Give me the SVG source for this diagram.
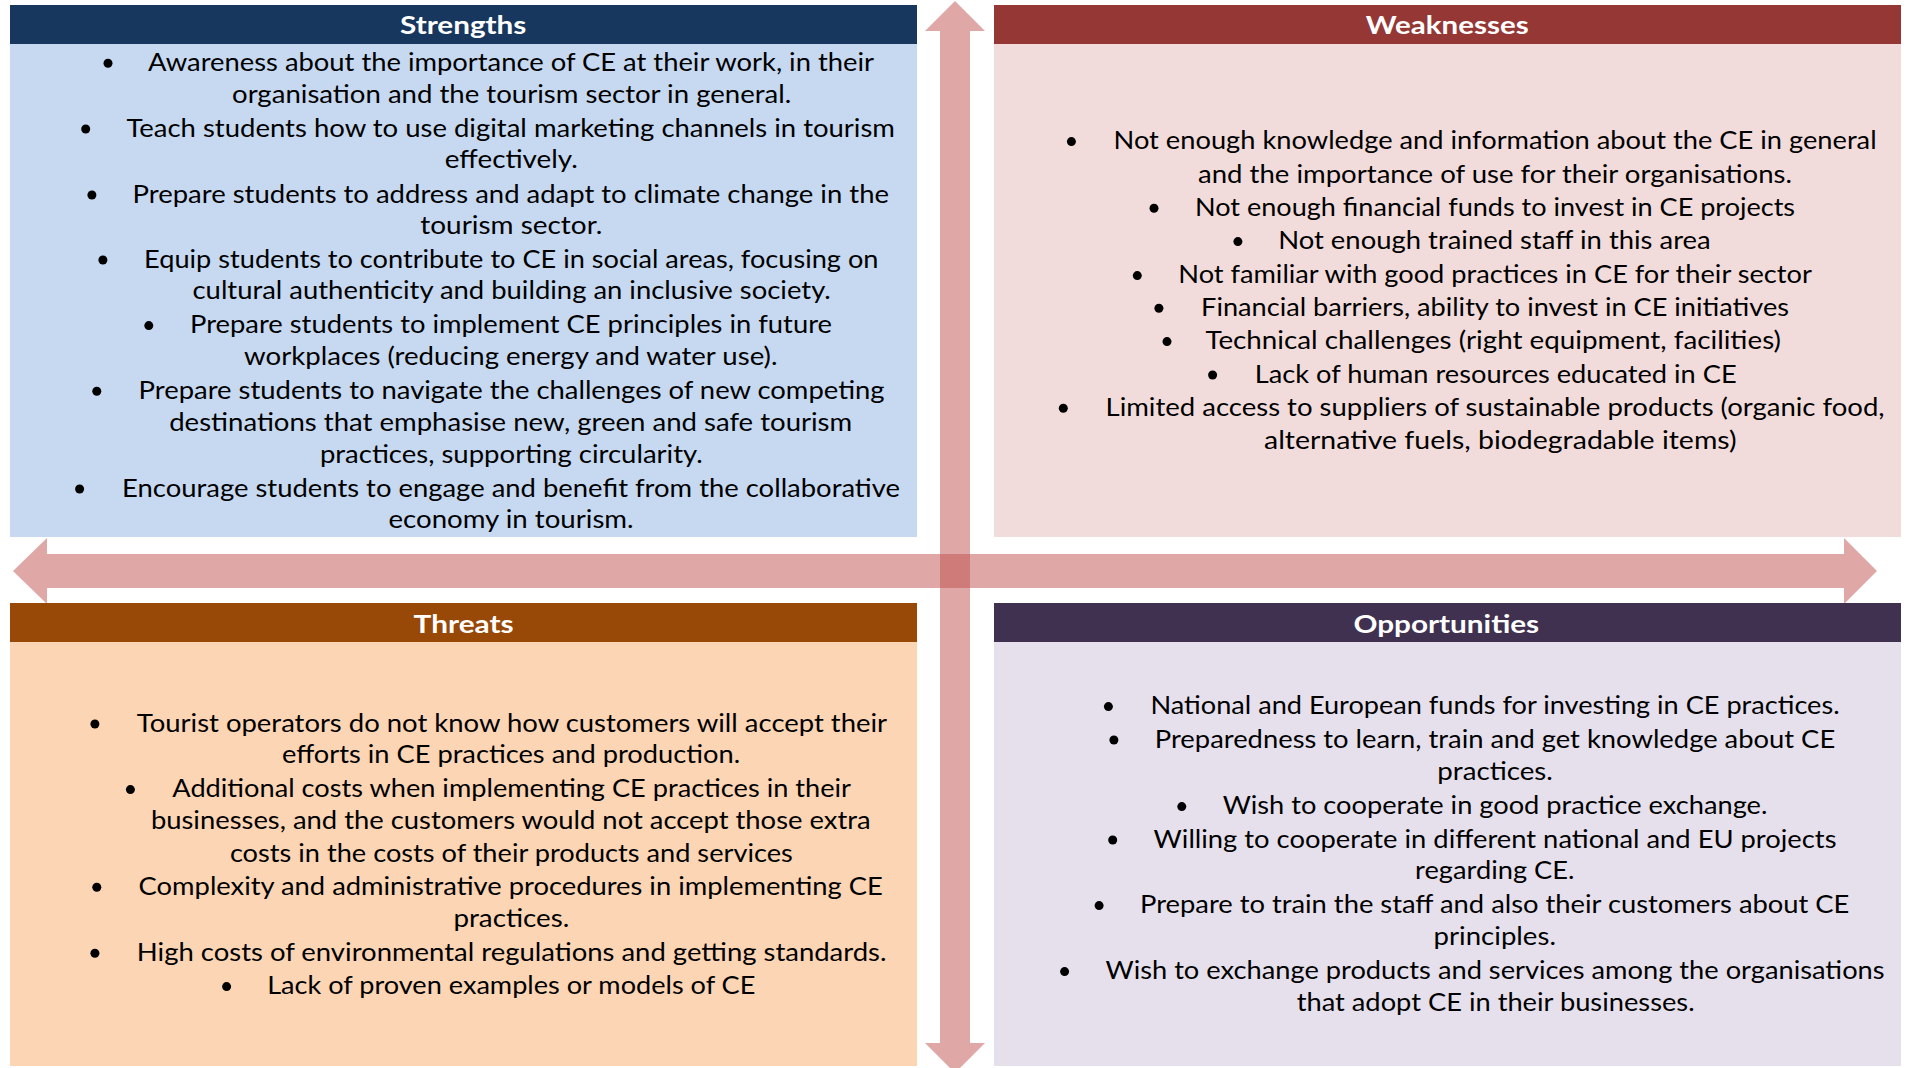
<svg xmlns="http://www.w3.org/2000/svg" width="1907" height="1068" viewBox="0 0 1907 1068">
<style>
.t{font-family:Lato,"Open Sans","Liberation Sans",sans-serif;font-size:25px;fill:#000;}
.h{font-family:Lato,"Open Sans","Liberation Sans",sans-serif;font-size:25px;font-weight:bold;fill:#fff;}
.arrow{fill:#C0504D;fill-opacity:0.5;}
.b{fill:#000;}
</style>
<rect width="1907" height="1068" fill="#fff"/>
<g id="connectors">
<polygon class="arrow" points="13,571 47,538 47,554 1844,554 1844,538 1877,571 1844,604 1844,588 47,588 47,604"/>
<polygon class="arrow" points="955,1 985,31 970,31 970,1043 985,1043 955,1073 925,1043 940,1043 940,31 925,31"/>
</g>
<g id="strengths">
<rect x="10" y="5" width="907" height="39" fill="#17375E"/>
<rect x="10" y="44" width="907" height="493" fill="#C6D9F1"/>
<text class="h" x="400" y="33.5" textLength="126.4" lengthAdjust="spacingAndGlyphs">Strengths</text>
<circle class="b" cx="108" cy="63.3" r="4.5"/>
<circle class="b" cx="85.7" cy="129" r="4.5"/>
<circle class="b" cx="91.9" cy="195" r="4.5"/>
<circle class="b" cx="102.9" cy="260" r="4.5"/>
<circle class="b" cx="148.8" cy="325.6" r="4.5"/>
<circle class="b" cx="96.8" cy="391.3" r="4.5"/>
<circle class="b" cx="79.6" cy="489" r="4.5"/>
<text class="t" x="148" y="71" textLength="726" lengthAdjust="spacingAndGlyphs">Awareness about the importance of CE at their work, in their</text>
<text class="t" x="232" y="102.7" textLength="559.3" lengthAdjust="spacingAndGlyphs">organisation and the tourism sector in general.</text>
<text class="t" x="126.4" y="136.7" textLength="768.6" lengthAdjust="spacingAndGlyphs">Teach students how to use digital marketing channels in tourism</text>
<text class="t" x="444.8" y="168.3" textLength="133" lengthAdjust="spacingAndGlyphs">effectively.</text>
<text class="t" x="132.5" y="202.7" textLength="756.5" lengthAdjust="spacingAndGlyphs">Prepare students to address and adapt to climate change in the</text>
<text class="t" x="420.3" y="234.3" textLength="182" lengthAdjust="spacingAndGlyphs">tourism sector.</text>
<text class="t" x="144.1" y="267.7" textLength="734.4" lengthAdjust="spacingAndGlyphs">Equip students to contribute to CE in social areas, focusing on</text>
<text class="t" x="192.5" y="299.3" textLength="638.3" lengthAdjust="spacingAndGlyphs">cultural authenticity and building an inclusive society.</text>
<text class="t" x="190" y="333.3" textLength="642" lengthAdjust="spacingAndGlyphs">Prepare students to implement CE principles in future</text>
<text class="t" x="244" y="365" textLength="533.5" lengthAdjust="spacingAndGlyphs">workplaces (reducing energy and water use).</text>
<text class="t" x="138.6" y="399" textLength="746" lengthAdjust="spacingAndGlyphs">Prepare students to navigate the challenges of new competing</text>
<text class="t" x="169.2" y="431" textLength="683" lengthAdjust="spacingAndGlyphs">destinations that emphasise new, green and safe tourism</text>
<text class="t" x="319.9" y="462.7" textLength="382.9" lengthAdjust="spacingAndGlyphs">practices, supporting circularity.</text>
<text class="t" x="122.1" y="496.7" textLength="777.9" lengthAdjust="spacingAndGlyphs">Encourage students to engage and benefit from the collaborative</text>
<text class="t" x="388.5" y="528.3" textLength="245.1" lengthAdjust="spacingAndGlyphs">economy in tourism.</text>
</g>
<g id="weaknesses">
<rect x="994" y="5" width="907" height="39" fill="#953735"/>
<rect x="994" y="44" width="907" height="493" fill="#F2DCDB"/>
<text class="h" x="1365.8" y="33.5" textLength="162.9" lengthAdjust="spacingAndGlyphs">Weaknesses</text>
<circle class="b" cx="1071.4" cy="141.6" r="4.5"/>
<circle class="b" cx="1154" cy="208.3" r="4.5"/>
<circle class="b" cx="1237.9" cy="241.6" r="4.5"/>
<circle class="b" cx="1137.3" cy="275.6" r="4.5"/>
<circle class="b" cx="1158.9" cy="308.3" r="4.5"/>
<circle class="b" cx="1167" cy="341.6" r="4.5"/>
<circle class="b" cx="1212.6" cy="375" r="4.5"/>
<circle class="b" cx="1063.3" cy="408.3" r="4.5"/>
<text class="t" x="1113.5" y="149.3" textLength="763.1" lengthAdjust="spacingAndGlyphs">Not enough knowledge and information about the CE in general</text>
<text class="t" x="1198" y="182.7" textLength="594" lengthAdjust="spacingAndGlyphs">and the importance of use for their organisations.</text>
<text class="t" x="1195" y="216" textLength="600.1" lengthAdjust="spacingAndGlyphs">Not enough financial funds to invest in CE projects</text>
<text class="t" x="1278.2" y="249.3" textLength="432.5" lengthAdjust="spacingAndGlyphs">Not enough trained staff in this area</text>
<text class="t" x="1178.3" y="283.3" textLength="633.5" lengthAdjust="spacingAndGlyphs">Not familiar with good practices in CE for their sector</text>
<text class="t" x="1201.1" y="316" textLength="587.9" lengthAdjust="spacingAndGlyphs">Financial barriers, ability to invest in CE initiatives</text>
<text class="t" x="1205.4" y="349.3" textLength="575.6" lengthAdjust="spacingAndGlyphs">Technical challenges (right equipment, facilities)</text>
<text class="t" x="1254.8" y="382.7" textLength="481.8" lengthAdjust="spacingAndGlyphs">Lack of human resources educated in CE</text>
<text class="t" x="1105.5" y="416" textLength="779.1" lengthAdjust="spacingAndGlyphs">Limited access to suppliers of sustainable products (organic food,</text>
<text class="t" x="1264" y="449.3" textLength="472.6" lengthAdjust="spacingAndGlyphs">alternative fuels, biodegradable items)</text>
</g>
<g id="threats">
<rect x="10" y="603" width="907" height="39" fill="#984807"/>
<rect x="10" y="642" width="907" height="424" fill="#FCD5B5"/>
<text class="h" x="413.6" y="632.5" textLength="100" lengthAdjust="spacingAndGlyphs">Threats</text>
<circle class="b" cx="94.9" cy="724" r="4.5"/>
<circle class="b" cx="130.4" cy="789.6" r="4.5"/>
<circle class="b" cx="96.8" cy="887.3" r="4.5"/>
<circle class="b" cx="94.9" cy="953.3" r="4.5"/>
<circle class="b" cx="226.6" cy="986.6" r="4.5"/>
<text class="t" x="136.8" y="731.7" textLength="750.3" lengthAdjust="spacingAndGlyphs">Tourist operators do not know how customers will accept their</text>
<text class="t" x="281.9" y="763.3" textLength="458.2" lengthAdjust="spacingAndGlyphs">efforts in CE practices and production.</text>
<text class="t" x="172.3" y="797.3" textLength="678.7" lengthAdjust="spacingAndGlyphs">Additional costs when implementing CE practices in their</text>
<text class="t" x="150.9" y="829.3" textLength="719.7" lengthAdjust="spacingAndGlyphs">businesses, and the customers would not accept those extra</text>
<text class="t" x="229.9" y="861.7" textLength="562.9" lengthAdjust="spacingAndGlyphs">costs in the costs of their products and services</text>
<text class="t" x="138.6" y="895" textLength="744.2" lengthAdjust="spacingAndGlyphs">Complexity and administrative procedures in implementing CE</text>
<text class="t" x="453.4" y="926.7" textLength="115.9" lengthAdjust="spacingAndGlyphs">practices.</text>
<text class="t" x="136.8" y="961" textLength="749.7" lengthAdjust="spacingAndGlyphs">High costs of environmental regulations and getting standards.</text>
<text class="t" x="267.2" y="994.3" textLength="488.2" lengthAdjust="spacingAndGlyphs">Lack of proven examples or models of CE</text>
</g>
<g id="opportunities">
<rect x="994" y="603" width="907" height="39" fill="#403151"/>
<rect x="994" y="642" width="907" height="424" fill="#E6E0EC"/>
<text class="h" x="1353.4" y="632.5" textLength="185.8" lengthAdjust="spacingAndGlyphs">Opportunities</text>
<circle class="b" cx="1108.4" cy="706.6" r="4.5"/>
<circle class="b" cx="1113.9" cy="740" r="4.5"/>
<circle class="b" cx="1181.8" cy="806.6" r="4.5"/>
<circle class="b" cx="1112.7" cy="840" r="4.5"/>
<circle class="b" cx="1099.1" cy="905.6" r="4.5"/>
<circle class="b" cx="1064.6" cy="971.6" r="4.5"/>
<text class="t" x="1150.5" y="714.3" textLength="689.1" lengthAdjust="spacingAndGlyphs">National and European funds for investing in CE practices.</text>
<text class="t" x="1154.8" y="747.7" textLength="680.4" lengthAdjust="spacingAndGlyphs">Preparedness to learn, train and get knowledge about CE</text>
<text class="t" x="1437.3" y="780" textLength="115.5" lengthAdjust="spacingAndGlyphs">practices.</text>
<text class="t" x="1222.7" y="814.3" textLength="544.7" lengthAdjust="spacingAndGlyphs">Wish to cooperate in good practice exchange.</text>
<text class="t" x="1153.6" y="847.7" textLength="682.9" lengthAdjust="spacingAndGlyphs">Willing to cooperate in different national and EU projects</text>
<text class="t" x="1415.1" y="879.3" textLength="159.3" lengthAdjust="spacingAndGlyphs">regarding CE.</text>
<text class="t" x="1140" y="913.3" textLength="709.4" lengthAdjust="spacingAndGlyphs">Prepare to train the staff and also their customers about CE</text>
<text class="t" x="1433.6" y="945" textLength="122.3" lengthAdjust="spacingAndGlyphs">principles.</text>
<text class="t" x="1105.5" y="979.3" textLength="779.1" lengthAdjust="spacingAndGlyphs">Wish to exchange products and services among the organisations</text>
<text class="t" x="1296.7" y="1011" textLength="397.9" lengthAdjust="spacingAndGlyphs">that adopt CE in their businesses.</text>
</g>
</svg>
